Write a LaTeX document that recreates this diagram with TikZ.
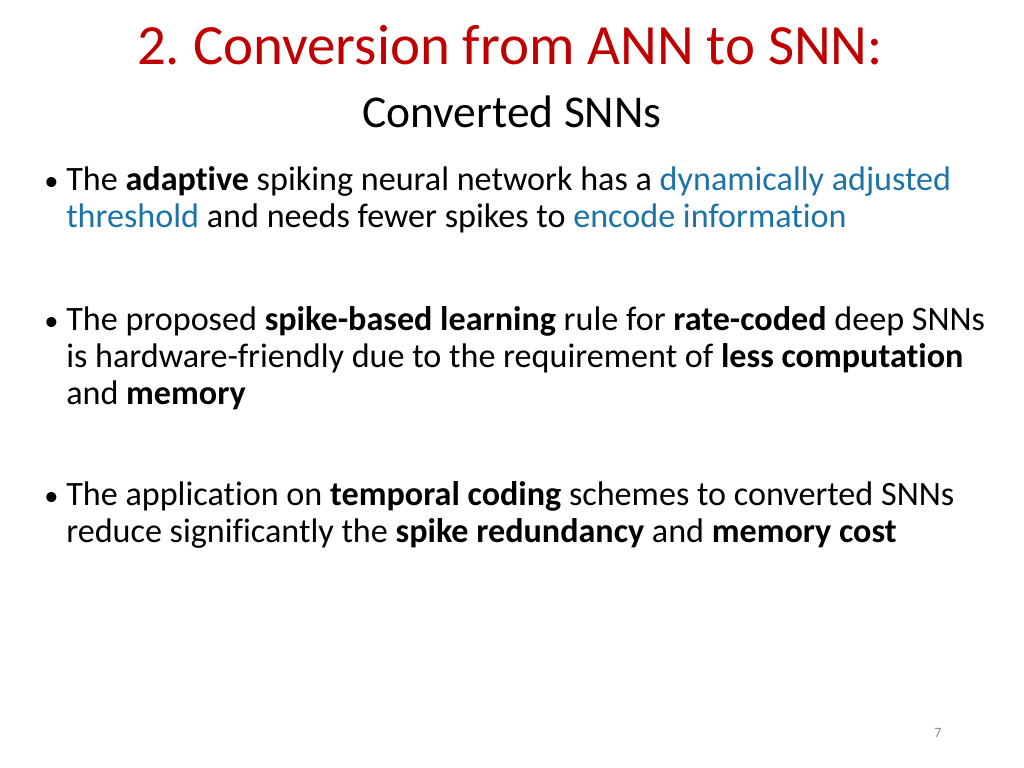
\documentclass[tikz,border=0pt]{standalone}
\usepackage{fontspec}
\setmainfont[Ligatures={NoCommon}]{Carlito}
\definecolor{tred}{HTML}{C00000}
\definecolor{tblue}{HTML}{1B73A8}
\definecolor{pgray}{HTML}{8C8C8C}
\begin{document}
\frenchspacing
\begin{tikzpicture}[x=0.703pt,y=-0.703pt,
  ln/.style={anchor=base west,inner sep=0pt,font=\fontsize{24}{28}\selectfont},
  bul/.style={anchor=base west,inner sep=0pt,font=\fontsize{20}{24}\selectfont}]
\useasboundingbox (0,0) rectangle (1024,768);
\node[anchor=base,inner sep=0pt,text=tred,font=\fontsize{40}{48}\selectfont] (title) at (510,64) {2. Conversion from ANN to SNN:};
\node[anchor=base,inner sep=0pt,font=\fontsize{32}{36}\selectfont] (sub) at (512,127) {Converted SNNs};
\node[bul] (b1) at (44,190) {•};
\node[ln] (l1a) at (66,190) {The \textbf{adaptive} spiking neural network has a \textcolor{tblue}{dynamically adjusted}};
\node[ln] (l1b) at (66,227) {\textcolor{tblue}{threshold} and needs fewer spikes to \textcolor{tblue}{encode information}};
\node[bul] (b2) at (44,330) {•};
\node[ln] (l2a) at (66,330) {The proposed \textbf{spike-based learning} rule for \textbf{rate-coded} deep SNNs};
\node[ln] (l2b) at (66,367) {is hardware-friendly due to the requirement of \textbf{less computation}};
\node[ln] (l2c) at (66,404) {and \textbf{memory}};
\node[bul] (b3) at (44,505) {•};
\node[ln] (l3a) at (66,505) {The application on \textbf{temporal coding} schemes to converted SNNs};
\node[ln] (l3b) at (66,542) {reduce significantly the \textbf{spike redundancy} and \textbf{memory cost}};
\node[anchor=base,inner sep=0pt,text=pgray,font=\fontsize{10}{12}\selectfont] (pg) at (938,737) {7};
\end{tikzpicture}
\end{document}
